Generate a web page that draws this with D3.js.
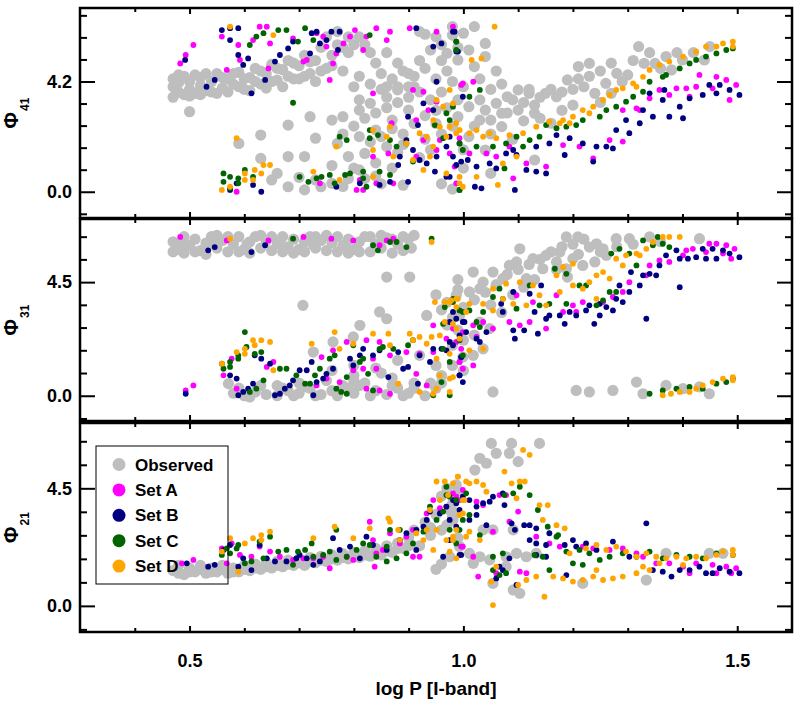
<!DOCTYPE html>
<html>
<head>
<meta charset="utf-8">
<script src="https://cdn.jsdelivr.net/npm/d3@7"></script>
<style>
    body { margin: 0; background: #fff; }
    svg { display: block; font-family: "Liberation Sans", Arial, sans-serif; font-weight: bold; }
</style>
</head>
<body>
<svg id="chart" width="802" height="702"></svg>
<script>
// ---- axes / labels ----
var xDomain = [0.3, 1.6];
var yDomain = [-1, 7];
var xTicks = [0.5, 1.0, 1.5];
var xMinor = [0.4, 0.6, 0.7, 0.8, 0.9, 1.1, 1.2, 1.3, 1.4];
var yTicks41 = [0.0, 4.2];
var yMinor41 = [-0.84, 0.84, 1.68, 2.52, 3.36, 5.04, 5.88, 6.72];
var yTicks31 = [0.0, 4.5];
var yMinor31 = [-0.9, 0.9, 1.8, 2.7, 3.6, 5.4, 6.3];
var yTicks21 = [0.0, 4.5];
var yMinor21 = [-0.9, 0.9, 1.8, 2.7, 3.6, 5.4, 6.3];
var seriesNames = ["Observed", "Set A", "Set B", "Set C", "Set D"];
var seriesColors = ["#bebebe", "#ff00ff", "#000080", "#006400", "#ffa500"];

// ---- Phi41 ----
var obs41 = [[0.47,4.0],[0.47,4.3],[0.47,3.6],[0.48,3.8],[0.48,4.15],[0.49,4.4],[0.49,3.7],[0.50,3.9],[0.50,4.2],[0.51,3.75],[0.51,4.45],[0.52,4.05],[0.52,4.35],[0.53,3.85],[0.53,4.5],[0.54,4.2],[0.55,4.5],[0.55,3.75],[0.56,3.95],[0.57,4.3],[0.57,3.8],[0.58,4.1],[0.59,4.55],[0.59,4.0],[0.60,3.9],[0.61,4.35],[0.61,3.85],[0.62,4.7],[0.63,4.1],[0.63,4.6],[0.64,4.5],[0.65,4.85],[0.65,4.2],[0.66,4.25],[0.67,4.65],[0.67,4.0],[0.68,5.0],[0.69,4.3],[0.69,4.9],[0.70,4.8],[0.71,5.2],[0.71,4.4],[0.72,4.5],[0.73,5.0],[0.73,4.2],[0.74,5.5],[0.75,4.7],[0.75,5.9],[0.76,5.2],[0.77,6.1],[0.78,5.5],[0.78,4.6],[0.79,5.9],[0.80,4.0],[0.81,4.4],[0.83,4.1],[0.85,3.9],[0.87,4.3],[0.89,4.6],[0.90,4.0],
[0.48,4.45],[0.50,3.65],[0.52,3.7],[0.54,3.8],[0.56,4.35],[0.58,4.5],[0.60,4.3],[0.62,4.2],[0.64,3.95],[0.66,4.7],[0.68,4.4],[0.70,4.3],[0.72,4.95],[0.74,4.6],[0.76,4.8],[0.77,5.6],[0.79,5.3],[0.80,5.6],[0.81,5.9],[0.83,5.3],[0.84,4.9],[0.85,4.5],[0.86,4.0],[0.88,4.0],[0.90,4.5],[0.92,5.0],[0.94,5.4],[0.96,5.6],[0.92,6.1],
[0.93,6.0],[0.95,5.9],[0.98,5.97],[0.97,5.27],[0.99,5.5],[0.96,5.0],[0.82,5.6],[0.86,5.3],[0.88,4.9],[0.91,4.4],[0.93,4.7],[0.95,4.3],
[0.50,3.05],[0.59,1.84],[0.63,2.16],[0.68,2.54],[0.72,2.86],[0.73,2.04],[0.63,1.27],[0.68,1.34],[0.71,1.34],[0.81,3.5],
[0.76,2.73],[0.78,2.86],[0.81,3.11],[0.83,3.37],[0.86,3.6],[0.88,3.88],[0.91,4.0],[0.77,1.84],[0.81,2.1],[0.84,2.35],[0.87,2.73],[0.90,3.11],[0.79,1.34],[0.82,1.46],[0.86,1.72],[0.89,2.2],[0.76,1.0],[0.80,0.9],[0.84,1.1],[0.88,1.5],[0.93,2.0],[0.95,2.6],[0.97,3.2],
[0.78,2.2],[0.80,2.5],[0.82,2.8],[0.84,3.0],[0.86,3.2],[0.88,3.4],[0.90,3.6],[0.92,3.8],[0.94,3.5],[0.96,3.8],[0.98,4.2],[0.97,4.6],[0.83,1.9],[0.85,2.1],[0.87,2.4],[0.91,2.6],[0.93,2.9],[0.95,3.1],[0.89,1.8],[0.92,1.3],[0.94,1.6],[0.96,2.2],[0.98,2.5],[0.99,3.5],[1.00,4.0],[0.82,0.5],[0.85,0.3],[0.78,0.2],
[0.65,0.45],[0.68,0.19],[0.71,0.07],[0.74,0.19],[0.76,0.32],[0.79,0.5],[0.81,0.83],[0.84,0.6],[0.66,0.7],[0.70,0.55],[0.73,0.45],[0.87,0.9],[0.96,0.3],[0.98,0.1],[0.89,0.25],
[0.98,6.29],[1.02,6.29],[1.00,6.04],[0.99,5.02],[1.01,5.4],[1.04,5.65],[1.04,5.15],[1.02,4.77],[0.99,2.86],[1.01,3.24],[1.04,3.11],[1.06,3.37],[1.08,3.62],[1.10,3.88],[1.12,3.75],[1.15,3.75],[1.17,3.62],[1.19,4.26],[1.21,4.77],[1.23,4.89],[1.22,4.0],[1.24,3.75],[1.26,4.13],[1.27,3.75],[1.28,4.51],[1.30,4.45],[1.32,5.53],[1.33,4.89],[1.35,4.89],[1.37,5.15],[1.38,4.64],[1.40,5.02],[1.45,5.53],[1.44,5.02],[1.05,2.73],[1.03,2.73],[1.07,2.99],[1.10,3.11],[1.13,2.99],[1.16,2.61],[1.07,2.48],[1.01,2.1],[1.04,1.59],[1.05,0.7],[1.13,1.21],[1.00,1.6],[1.09,2.0],[1.20,3.3],[1.25,3.4],
[1.03,3.5],[1.05,3.9],[1.07,4.1],[1.09,3.5],[1.11,3.4],[1.13,3.3],[1.14,3.6],[1.16,3.9],[1.18,3.8],[1.20,3.9],[1.21,4.3],[1.23,4.4],[1.25,4.6],[1.27,4.9],[1.29,4.2],[1.31,5.0],[1.34,5.3],[1.36,4.7],[1.39,5.3],[1.42,5.3],[1.06,4.6],[1.03,4.3],[1.08,3.0],[1.11,2.7],[1.14,2.8],[1.18,3.1],[1.02,2.5],[1.05,2.2],[1.00,0.9],[1.12,3.9]];

var setA41 = [[0.483,4.89],[0.493,5.21],[0.507,5.59],[0.559,5.91],[0.568,4.64],[0.589,5.59],[0.592,5.02],[0.616,5.78],[0.628,6.29],[0.641,6.29],[0.647,5.65],[0.644,4.70],[0.689,5.84],[0.708,4.96],[0.714,5.02],[0.732,6.04],[0.744,5.91],[0.750,5.53],[0.756,4.26],[0.762,4.89],[0.768,5.27],[0.781,5.65],[0.793,5.91],[0.802,6.16],[0.817,5.40],[0.823,5.91],[0.841,6.23],[0.860,5.78],[0.866,6.10],[0.902,6.23],[0.951,6.10],[0.981,6.29],[0.908,3.88],[0.927,3.81],[0.936,3.11],[0.951,3.43],[0.835,3.75],[0.996,4.07],[0.914,2.73],[0.869,2.61],[0.927,1.97],[0.951,1.59],[0.914,1.34],[0.863,1.46],[0.835,1.34],[0.811,0.45],[0.805,0.07],[0.817,0.07],[0.841,0.32],[0.872,0.32],[0.738,0.32],[0.586,0.0],[0.957,1.97],
[0.993,2.04],[1.011,1.46],[1.042,1.46],[1.060,1.34],[1.084,1.72],[1.115,1.08],[1.151,0.96],[1.182,1.78],[1.212,1.72],[1.237,1.27],[1.267,1.97],[1.291,1.91],[1.316,3.18],[1.340,3.56],[1.358,3.88],[1.389,3.94],[1.407,3.94],[1.425,4.00],[1.455,3.94],[1.480,4.26],[1.498,4.07],[1.431,4.45],[1.462,4.38],[1.486,3.50],[1.413,3.62],[1.376,3.69],[1.322,3.11],[1.291,3.11],[1.091,0.51],[0.999,4.13],[1.018,4.19],[0.975,1.46],[0.984,0.96],[0.987,0.32]];

var setB41 = [[0.492,5.02],[0.531,4.00],[0.546,4.26],[0.559,6.16],[0.574,6.23],[0.589,6.23],[0.574,5.78],[0.589,5.21],[0.598,4.83],[0.607,5.08],[0.613,3.75],[0.638,4.26],[0.656,4.96],[0.665,5.21],[0.680,5.46],[0.689,5.72],[0.720,5.27],[0.723,6.04],[0.732,6.10],[0.738,5.65],[0.750,5.78],[0.759,6.10],[0.771,5.40],[0.774,6.10],[0.951,4.19],[0.960,5.65],[0.945,5.53],[0.987,5.34],[0.914,6.23],[0.981,6.10],[0.899,2.86],[0.917,2.54],[0.945,3.11],[0.927,3.37],[0.896,1.97],[0.908,1.59],[0.920,1.21],[0.933,1.08],[0.975,2.10],[0.981,1.34],[0.969,1.72],[0.951,1.34],[0.884,1.34],[0.881,1.02],[0.899,0.38],[0.866,0.38],[0.847,0.26],[0.811,0.32],[0.768,0.19],[0.631,0.00],[0.586,0.32],[0.574,0.07],[0.616,0.26],[0.948,0.77],[0.969,0.57],[0.996,1.15],
[0.984,6.10],[0.990,5.34],[0.999,3.62],[0.987,1.02],[1.008,1.21],[1.024,0.96],[1.048,1.08],[1.060,0.89],[1.078,1.46],[1.091,1.59],[1.115,0.83],[1.133,0.77],[1.151,0.70],[1.133,1.72],[1.157,1.84],[1.170,2.16],[1.185,1.40],[1.194,2.04],[1.218,1.84],[1.237,1.15],[1.243,1.72],[1.261,1.72],[1.273,1.65],[1.279,2.35],[1.303,2.23],[1.297,2.73],[1.322,2.61],[1.328,3.11],[1.346,2.86],[1.364,3.50],[1.376,2.86],[1.395,3.24],[1.401,2.80],[1.413,3.56],[1.437,3.69],[1.462,3.75],[1.486,3.88],[1.504,3.69],[1.449,4.07],[1.468,4.07],[1.340,3.75],[1.367,3.88],[1.094,0.07],[1.033,0.13],[1.021,0.19],[1.097,1.40],[0.975,0.57]];

var setC41 = [[0.993,1.84],[1.024,1.72],[1.054,1.72],[1.078,1.84],[1.109,1.72],[1.139,2.10],[1.170,2.42],[1.188,2.48],[1.218,2.73],[1.249,2.86],[1.279,3.24],[1.310,3.62],[1.340,4.19],[1.370,4.45],[1.395,4.70],[1.425,5.02],[1.462,5.27],[1.492,5.46],[0.987,5.72],[0.987,5.40],[1.030,3.88],[1.011,3.62],[0.993,0.07],[1.075,0.89],[1.097,2.10],[1.121,1.97],[1.151,2.54],[1.206,2.54],[1.261,3.11],[1.297,3.43],[1.328,3.81],[1.364,4.38],[1.413,4.89],[1.443,5.15],[1.480,5.40],
[0.610,5.59],[0.622,5.91],[0.635,6.04],[0.662,6.16],[0.677,6.16],[0.698,5.72],[0.711,6.23],[0.726,5.78],[0.829,5.97],[0.987,5.72],[0.689,3.39],[0.774,2.10],[0.787,1.97],[0.829,2.04],[0.844,2.16],[0.829,2.35],[0.866,1.97],[0.878,1.72],[0.896,1.84],[0.948,2.54],[0.963,2.04],[0.975,2.73],[0.969,2.99],[0.993,1.84],[0.999,1.59],[0.981,3.24],[0.562,0.70],[0.562,0.38],[0.574,0.57],[0.574,0.13],[0.589,0.51],[0.589,0.32],[0.601,0.83],[0.616,0.57],[0.701,0.57],[0.717,0.38],[0.732,0.51],[0.741,0.57],[0.756,0.64],[0.765,0.32],[0.784,0.64],[0.793,0.70],[0.817,0.77],[0.817,0.51],[0.823,0.19],[0.847,0.77],[0.866,0.64],[0.908,1.15],[0.993,0.07]];

var setD41 = [[0.975,2.48],[0.993,2.35],[1.011,2.23],[1.036,2.10],[1.060,2.04],[1.084,2.16],[1.109,2.23],[1.133,2.48],[1.157,2.67],[1.182,2.73],[1.200,2.86],[1.218,3.11],[1.237,3.24],[1.255,3.50],[1.279,3.88],[1.291,3.94],[1.310,4.13],[1.328,4.38],[1.340,4.64],[1.358,4.83],[1.376,4.96],[1.401,5.15],[1.425,5.34],[1.443,5.53],[1.462,5.53],[1.474,5.65],[1.492,5.72],[1.492,5.53],[1.176,2.61],[1.267,3.69],[1.316,4.00],[1.230,2.99],[1.194,2.61],[0.987,2.61],[1.024,2.35],[1.048,2.23],[1.057,6.29],[1.015,5.02],[1.033,5.08],[1.024,0.57],[0.993,0.32],[1.063,0.26],[1.097,1.34],[1.072,1.08],
[0.951,3.50],[0.963,3.24],[0.975,3.88],[0.981,3.37],[0.945,2.73],[0.933,2.10],[0.957,2.48],[0.969,2.10],[0.987,2.23],[0.993,2.35],[0.920,2.23],[0.896,1.84],[0.860,2.10],[0.866,2.48],[0.835,2.35],[0.835,1.59],[0.872,1.34],[0.908,1.21],[0.927,0.83],[0.969,0.70],[0.993,0.57],[0.999,0.19],[0.945,1.72],[0.939,1.34],[0.559,0.07],[0.586,2.04],[0.601,0.70],[0.619,0.83],[0.635,1.02],[0.647,1.02],[0.631,0.70],[0.616,0.45],[0.574,0.19],[0.726,0.77],[0.768,1.72],[0.774,0.45],[0.835,0.57],[0.574,6.29],[0.653,5.97],[0.601,0.45]];

// ---- Phi31 ----
var obs31 = [[0.47,6.1],[0.48,5.8],[0.49,6.3],[0.50,5.95],[0.51,6.2],[0.52,5.75],[0.53,6.05],[0.54,6.3],[0.55,5.85],[0.56,6.15],[0.57,5.7],[0.58,6.0],[0.59,6.3],[0.60,5.8],[0.61,6.1],[0.62,6.3],[0.63,5.85],[0.64,6.15],[0.65,5.75],[0.66,6.05],[0.67,6.3],[0.68,5.9],[0.69,6.2],[0.70,5.8],[0.71,6.1],[0.72,6.3],[0.73,5.85],[0.74,6.15],[0.75,5.75],[0.76,6.05],[0.77,6.3],[0.78,5.95],[0.79,6.2],[0.80,5.8],[0.81,6.1],[0.82,6.3],[0.83,5.7],[0.84,6.0],[0.85,5.85],[0.86,6.25],[0.87,5.65],[0.88,6.0],[0.89,6.3],[0.90,6.2],[0.91,6.35],
[0.47,5.7],[0.49,5.65],[0.51,5.7],[0.53,5.6],[0.55,6.35],[0.57,6.3],[0.59,5.7],[0.61,5.65],[0.63,6.35],[0.65,6.3],[0.67,5.7],[0.69,5.65],[0.71,5.7],[0.73,6.3],[0.75,6.35],[0.77,5.7],[0.79,5.65],[0.81,5.7],[0.83,6.3],[0.85,6.35],[0.87,6.2],[0.89,5.75],[0.485,6.0],[0.545,6.0],[0.605,6.0],[0.665,6.0],[0.725,6.0],[0.785,6.0],[0.845,6.0],[0.905,5.85],
[0.860,4.70],[0.902,4.70],[0.707,3.58],[0.571,0.48],[0.811,2.79],[0.762,2.13],[0.799,2.33],[0.847,3.32],[0.860,3.05],[0.933,3.18],[0.726,1.73],
[0.58,0.1],[0.60,0.0],[0.62,0.15],[0.64,0.05],[0.66,0.0],[0.68,0.2],[0.70,0.1],[0.72,0.3],[0.74,0.05],[0.76,0.2],[0.78,0.4],[0.80,0.1],[0.82,0.5],[0.84,0.2],[0.86,0.05],[0.88,0.3],[0.90,0.1],[0.70,0.5],[0.75,0.6],[0.80,0.8],[0.85,0.9],[0.66,0.4],
[0.59,0.3],[0.61,-0.05],[0.63,0.4],[0.67,0.3],[0.69,0.0],[0.71,0.35],[0.73,0.0],[0.77,0.0],[0.79,0.3],[0.81,0.4],[0.83,0.0],[0.87,0.4],[0.89,0.0],[0.91,0.5],[0.93,0.0],[0.95,0.3],
[0.76,1.0],[0.80,1.2],[0.84,1.1],[0.88,1.4],[0.92,1.6],[0.95,1.2],[0.80,0.6],[0.87,0.7],[0.91,0.3],[0.94,0.5],[0.96,0.8],[0.98,2.0],[0.99,2.6],
[0.95,4.0],[0.97,3.7],[0.99,4.2],[0.96,3.4],[0.98,3.1],[0.99,4.6],
[1.00,3.5],[1.02,3.8],[1.04,4.1],[1.06,4.4],[1.08,4.8],[1.10,5.0],[1.12,5.2],[1.14,5.4],[1.16,5.7],[1.18,5.9],[1.20,6.0],[1.22,6.2],[1.05,3.6],[1.09,4.0],[1.13,4.6],[1.17,5.0],[1.21,5.6],[1.25,5.7],[1.28,5.9],[1.31,6.0],[1.36,6.1],[1.00,2.2],[1.02,2.4],[0.97,2.8],[1.24,5.3],[1.19,4.7],[1.11,4.3],[1.07,3.3],[0.96,0.5],[0.98,1.2],[1.00,1.0],
[1.188,6.29],[1.209,6.29],[1.230,5.89],[1.243,6.02],[1.255,5.82],[1.279,6.22],[1.303,6.22],[1.340,6.29],[1.431,6.22],[1.103,5.82],[1.084,5.16],[1.097,5.30],[1.127,5.43],[1.151,5.56],[1.145,5.03],[1.170,5.30],[1.200,5.43],[1.188,5.03],[1.218,5.16],[1.018,4.90],[1.054,4.90],[1.072,4.64],[1.036,4.50],[1.115,4.64],[1.011,4.11],[0.987,3.98],[1.030,4.24],[1.060,4.37],[0.993,3.18],[1.030,2.92],[1.048,2.66],[1.036,1.86],[1.018,1.60],[1.054,0.15],[1.206,0.21],[1.230,0.15],[1.273,0.21],[1.316,0.54],[1.328,0.08],[1.370,0.41],[1.449,0.08],[1.431,0.35],[1.401,0.28],[0.999,1.53],[1.261,5.56],[1.176,5.69]];

var setA31 = [[0.483,6.29],[0.568,6.15],[0.644,6.15],[0.708,6.29],[0.759,6.22],[0.799,6.15],[0.860,6.15],[0.872,6.22],[0.847,5.96],[0.493,0.21],[0.507,0.41],[0.562,0.81],[0.577,1.47],[0.586,0.28],[0.641,1.14],[0.653,1.34],[0.741,1.53],[0.762,1.80],[0.732,0.41],[0.750,0.68],[0.774,0.54],[0.799,1.01],[0.817,1.07],[0.823,2.20],[0.847,2.13],[0.866,1.60],[0.841,1.07],[0.823,0.28],[0.847,0.21],[0.866,0.08],[0.896,1.73],[0.920,1.66],[0.914,0.87],[0.933,0.41],[0.945,1.73],[0.969,2.26],[0.981,2.66],[0.993,1.34],[0.999,1.07],[0.945,2.79],[0.835,1.47],[0.787,2.13],
[0.987,2.13],[0.999,2.52],[1.018,2.79],[1.024,2.33],[0.993,1.34],[1.018,1.20],[0.996,1.86],[1.036,2.92],[1.084,2.92],[1.103,2.79],[1.097,3.98],[1.121,2.92],[1.151,2.66],[1.170,3.98],[1.182,3.32],[1.200,3.58],[1.206,3.32],[1.218,3.71],[1.255,3.71],[1.291,4.11],[1.303,4.50],[1.340,5.16],[1.358,5.36],[1.376,5.30],[1.401,5.56],[1.407,5.76],[1.419,5.82],[1.449,6.02],[1.462,6.02],[1.480,5.96],[1.495,5.82],[1.489,5.43],[1.474,5.63],[1.443,5.69],[1.127,3.71],[1.054,2.66],[1.334,4.77],[1.273,3.91]];

var setB31 = [[0.534,5.76],[0.546,5.89],[0.613,5.69],[0.638,5.96],[0.493,0.08],[0.574,0.81],[0.586,0.68],[0.589,0.02],[0.598,0.15],[0.607,0.28],[0.616,0.48],[0.619,1.60],[0.631,1.47],[0.647,1.27],[0.656,0.02],[0.665,0.08],[0.674,0.28],[0.683,0.41],[0.689,0.61],[0.701,1.01],[0.714,1.01],[0.723,1.34],[0.726,0.02],[0.732,0.54],[0.744,0.68],[0.750,0.87],[0.762,1.07],[0.793,1.47],[0.799,1.20],[0.811,1.60],[0.817,1.86],[0.835,1.60],[0.847,1.80],[0.863,0.74],[0.881,1.73],[0.890,1.07],[0.899,1.14],[0.917,0.48],[0.920,1.60],[0.939,1.34],[0.945,1.86],[0.960,1.86],[0.969,1.80],[0.975,2.13],[0.993,2.39],[0.996,1.53],[0.993,0.81],[1.002,2.92],[0.981,3.32],
[0.975,2.92],[0.987,3.05],[0.999,2.92],[1.005,2.52],[1.024,2.26],[1.030,2.13],[1.042,2.52],[0.981,2.00],[0.996,1.53],[0.993,0.81],[0.999,0.54],[1.069,3.64],[1.072,3.32],[1.091,4.11],[1.091,2.59],[1.094,2.26],[1.111,2.59],[1.121,4.04],[1.130,3.32],[1.136,2.46],[1.142,4.37],[1.151,3.05],[1.157,3.18],[1.176,3.18],[1.185,2.85],[1.194,3.32],[1.206,3.18],[1.224,3.38],[1.230,3.58],[1.239,2.85],[1.249,3.18],[1.261,3.51],[1.273,3.38],[1.279,3.84],[1.291,3.71],[1.285,4.37],[1.303,4.11],[1.306,4.90],[1.322,4.37],[1.328,4.77],[1.340,4.83],[1.352,4.77],[1.358,5.16],[1.370,5.56],[1.395,5.43],[1.410,5.43],[1.425,5.49],[1.437,5.82],[1.443,5.43],[1.455,5.82],[1.462,5.43],[1.474,5.76],[1.486,5.63],[1.504,5.49],[1.395,4.30],[1.334,3.05],[1.389,5.76],[1.249,3.64]];

var setC31 = [[0.689,6.22],[0.835,5.96],[0.844,5.76],[0.866,6.09],[0.878,6.09],[0.896,5.89],[0.942,6.22],[0.601,2.52],[0.559,1.27],[0.562,1.07],[0.574,1.34],[0.574,1.14],[0.589,1.60],[0.589,1.47],[0.604,1.93],[0.619,1.66],[0.631,1.73],[0.635,0.61],[0.610,0.15],[0.622,0.28],[0.665,1.07],[0.677,1.07],[0.695,0.81],[0.711,0.48],[0.720,0.48],[0.729,0.81],[0.738,1.07],[0.756,1.47],[0.765,1.60],[0.768,0.28],[0.777,0.15],[0.787,0.08],[0.787,0.74],[0.799,2.00],[0.811,1.34],[0.817,1.47],[0.826,0.87],[0.835,0.21],[0.847,1.86],[0.853,1.93],[0.872,1.86],[0.899,2.00],[0.908,2.20],[0.963,2.85],[0.966,3.51],[0.981,3.84],[0.993,3.38],[0.963,1.86],[0.975,1.34],[0.960,0.54],[0.945,0.02],[0.975,0.02],[0.999,1.60],
[0.981,3.71],[0.999,3.32],[1.011,3.38],[1.024,2.92],[1.036,3.32],[1.054,3.91],[1.066,4.24],[1.072,3.84],[1.097,3.45],[1.121,4.37],[1.139,3.58],[1.157,3.64],[1.167,5.03],[1.188,4.83],[1.188,3.64],[1.212,4.37],[1.224,4.37],[1.243,3.58],[1.255,3.78],[1.267,4.11],[1.270,5.63],[1.279,4.11],[1.285,5.82],[1.303,5.63],[1.316,5.16],[1.328,6.15],[1.346,5.96],[1.355,6.29],[1.376,5.89],[1.364,6.02],[0.993,2.20],[1.030,2.72],[1.340,0.08],[1.364,0.21],[1.389,0.28],[1.413,0.35],[1.437,0.28],[1.462,0.48],[1.492,0.68],[1.480,0.54]];

var setD31 = [[0.574,6.22],[0.942,6.09],[0.559,1.27],[0.586,1.73],[0.601,1.86],[0.601,1.66],[0.616,2.20],[0.619,2.00],[0.631,2.20],[0.647,2.13],[0.653,1.01],[0.723,2.06],[0.765,2.52],[0.774,1.86],[0.799,2.06],[0.835,2.46],[0.863,2.46],[0.866,2.00],[0.881,0.48],[0.902,2.46],[0.908,2.20],[0.920,2.33],[0.933,2.06],[0.920,0.15],[0.948,3.71],[0.966,3.71],[0.978,3.78],[0.990,3.84],[0.987,3.51],[1.005,3.32],[0.966,2.92],[0.981,2.85],[0.942,2.33],[0.957,2.39],[0.975,1.66],[0.951,1.47],[0.981,0.74],[0.957,0.81],[0.951,0.28],[0.945,0.08],[0.975,0.15],
[0.975,3.71],[0.987,3.84],[1.011,3.64],[1.036,3.64],[1.054,3.38],[1.054,4.24],[1.078,4.44],[1.103,4.50],[1.072,3.84],[1.091,3.64],[1.115,3.58],[1.127,4.37],[1.139,3.98],[1.151,3.58],[1.170,4.77],[1.182,5.10],[1.200,5.23],[1.176,4.11],[1.200,4.37],[1.218,4.24],[1.230,4.50],[1.243,4.77],[1.255,4.90],[1.267,4.64],[1.243,3.84],[1.279,5.43],[1.291,5.16],[1.297,5.56],[1.316,5.63],[1.322,5.56],[1.334,5.82],[1.346,6.09],[1.364,6.29],[1.376,6.29],[1.395,6.29],[0.987,2.66],[0.993,2.26],[1.011,1.80],[1.036,1.86],[0.975,0.68],[1.364,0.02],[1.379,0.08],[1.395,0.15],[1.413,0.15],[1.425,0.28],[1.437,0.41],[1.455,0.54],[1.474,0.68],[1.492,0.74],[1.492,0.61]];

// ---- Phi21 ----
var obs21 = [[0.47,1.35],[0.48,1.55],[0.49,1.2],[0.50,1.45],[0.51,1.3],[0.52,1.55],[0.53,1.25],[0.54,1.45],[0.55,1.3],[0.56,1.55],[0.57,1.25],[0.58,1.45],[0.59,1.3],[0.60,1.55],[0.61,1.35],[0.62,1.6],[0.63,1.4],[0.64,1.65],[0.65,1.45],[0.66,1.7],[0.67,1.5],[0.68,1.75],[0.69,1.55],[0.70,1.8],[0.71,1.55],[0.72,1.85],[0.73,1.65],[0.74,1.9],[0.75,1.7],[0.76,1.95],[0.77,1.75],[0.78,2.0],[0.79,1.8],[0.80,2.05],[0.81,1.85],[0.82,2.1],[0.83,1.9],[0.84,2.2],[0.85,1.95],[0.86,2.3],[0.87,2.05],[0.88,2.4],[0.89,2.2],[0.90,2.6],[0.91,2.9],[0.92,2.3],[0.93,3.2],[0.94,2.7],[0.95,3.5],[0.96,1.6],[0.97,3.1],[0.98,3.9],[0.99,2.6],[0.95,1.4],
[0.48,1.25],[0.50,1.3],[0.52,1.4],[0.54,1.3],[0.56,1.4],[0.58,1.3],[0.60,1.4],[0.62,1.45],[0.64,1.5],[0.66,1.55],[0.68,1.6],[0.70,1.65],[0.72,1.7],[0.74,1.75],[0.76,1.8],[0.78,1.85],[0.80,1.9],[0.82,1.95],[0.84,2.0],[0.86,2.1],[0.88,2.2],[0.90,2.3],[0.96,4.2],[0.97,4.5],[0.99,4.4],[0.94,3.0],[0.96,2.9],[0.98,3.4],
[1.051,6.22],[1.088,6.22],[1.139,6.22],[1.060,5.84],[1.084,5.84],[1.030,5.65],[1.042,5.46],[1.100,5.52],[1.021,5.20],[0.987,4.63],[0.975,3.67],[0.987,3.54],[0.981,3.29],[1.036,2.91],[1.054,2.91],[1.091,2.91],[0.993,2.27],[1.011,2.01],[1.030,1.88],[1.018,1.63],[1.048,1.76],[1.078,1.88],[1.097,2.01],[1.115,1.88],[1.078,1.50],[1.054,0.86],[1.091,0.61],[1.103,0.48],[1.218,0.86],[1.133,2.01],[1.334,0.99],[1.370,2.01],[1.449,2.01],[1.474,2.01],[0.975,1.88]];

var setA21 = [[0.486,1.63],[0.507,1.76],[0.559,2.20],[0.568,1.63],[0.577,2.39],[0.592,1.95],[0.613,1.88],[0.628,2.27],[0.647,2.08],[0.665,1.88],[0.689,1.76],[0.708,1.82],[0.726,1.82],[0.744,1.88],[0.756,1.44],[0.787,1.88],[0.799,1.76],[0.829,3.22],[0.835,2.52],[0.841,2.01],[0.853,2.14],[0.866,2.78],[0.884,2.39],[0.896,2.65],[0.908,2.91],[0.920,1.88],[0.933,3.54],[0.945,4.05],[0.957,3.74],[0.969,3.80],[0.981,4.31],[0.993,4.05],[0.996,2.27],[0.838,1.50],[0.908,1.88],
[0.987,4.18],[0.999,4.44],[1.024,3.99],[1.036,3.86],[1.066,4.24],[1.078,4.24],[1.100,3.61],[1.084,3.22],[1.054,2.84],[1.018,1.88],[0.999,2.27],[1.027,1.12],[1.060,1.25],[1.103,1.31],[1.115,1.25],[1.133,2.65],[1.157,2.39],[1.176,2.27],[1.218,2.27],[1.237,2.20],[1.267,2.14],[1.291,2.20],[1.316,2.01],[1.352,1.63],[1.376,1.63],[1.401,1.50],[1.425,1.63],[1.455,1.57],[1.480,1.50],[1.498,1.44],[1.462,1.25],[1.489,1.25],[1.413,1.25],[1.328,1.88]];

var setB21 = [[0.495,1.63],[0.534,1.50],[0.546,1.57],[0.562,2.14],[0.574,2.33],[0.589,1.50],[0.598,1.82],[0.613,1.37],[0.628,2.33],[0.641,1.82],[0.656,1.70],[0.677,1.70],[0.695,1.82],[0.701,1.95],[0.714,1.82],[0.726,1.57],[0.738,1.70],[0.762,2.59],[0.774,2.14],[0.793,2.27],[0.811,1.82],[0.823,2.65],[0.835,2.33],[0.860,2.14],[0.884,2.52],[0.896,2.78],[0.914,2.91],[0.927,3.03],[0.933,3.29],[0.939,3.61],[0.957,3.54],[0.969,3.80],[0.975,3.29],[0.981,4.05],[0.993,3.67],[0.996,1.95],[0.963,1.88],[0.914,2.14],
[0.987,3.93],[0.999,4.18],[1.011,4.05],[1.024,3.80],[1.011,3.29],[1.024,3.48],[1.036,3.93],[1.048,3.99],[1.054,4.18],[1.072,4.31],[1.075,3.86],[0.987,3.03],[0.975,2.52],[0.993,1.95],[1.042,3.09],[1.088,3.16],[1.094,2.91],[1.111,3.09],[1.121,3.09],[1.133,2.97],[1.157,2.78],[1.121,2.52],[1.133,2.39],[1.151,2.33],[1.133,1.95],[1.151,1.88],[1.188,1.18],[1.200,2.52],[1.185,2.33],[1.206,2.27],[1.224,2.39],[1.243,2.14],[1.273,2.46],[1.303,1.88],[1.334,3.16],[1.346,1.37],[1.364,1.31],[1.380,1.12],[1.395,1.37],[1.413,1.37],[1.431,1.50],[1.443,1.25],[1.455,1.25],[1.468,1.44],[1.486,1.31],[1.504,1.25],[1.066,1.50],[1.097,0.80],[1.060,1.05],[1.072,1.37],[1.084,1.82]];

var setC21 = [[0.559,1.95],[0.568,2.20],[0.574,2.01],[0.586,2.20],[0.589,2.33],[0.601,1.63],[0.613,1.70],[0.628,2.46],[0.635,1.82],[0.647,2.65],[0.662,2.08],[0.677,2.14],[0.689,1.57],[0.698,2.08],[0.711,2.14],[0.723,2.39],[0.726,1.88],[0.744,1.95],[0.756,2.08],[0.768,2.91],[0.768,1.76],[0.787,1.88],[0.805,2.14],[0.817,2.39],[0.829,2.33],[0.841,1.88],[0.860,1.70],[0.866,2.91],[0.878,1.82],[0.884,2.91],[0.896,2.01],[0.908,2.39],[0.927,2.84],[0.939,3.80],[0.951,3.29],[0.963,3.61],[0.969,4.24],[0.975,2.91],[0.987,4.05],[0.999,3.29],[0.860,2.27],[0.969,4.56],
[0.975,4.18],[1.005,4.31],[0.993,2.91],[0.987,2.39],[1.011,3.48],[1.030,2.71],[1.054,1.37],[1.066,1.18],[1.078,1.25],[1.054,1.88],[1.072,2.01],[1.075,4.24],[1.091,4.31],[1.103,4.56],[1.121,4.24],[1.136,3.67],[1.154,3.03],[1.130,1.95],[1.145,1.88],[1.157,1.37],[1.173,2.71],[1.188,2.08],[1.200,1.63],[1.212,2.14],[1.230,2.01],[1.249,1.76],[1.267,1.88],[1.291,2.01],[1.316,1.88],[1.340,2.08],[1.364,1.82],[1.389,1.95],[1.413,1.88],[1.437,1.82],[1.462,2.01],[1.492,1.95],[1.170,2.65],[1.218,1.57]];

var setD21 = [[0.559,2.08],[0.574,2.59],[0.589,1.31],[0.601,2.39],[0.616,2.59],[0.631,2.71],[0.631,2.52],[0.647,2.84],[0.726,2.59],[0.765,3.03],[0.799,2.59],[0.829,2.97],[0.863,3.35],[0.866,3.22],[0.881,2.91],[0.884,2.52],[0.914,2.78],[0.927,2.52],[0.933,2.91],[0.939,3.67],[0.951,4.76],[0.966,4.76],[0.981,4.69],[0.990,4.95],[1.005,4.76],[0.972,4.24],[0.957,4.05],[0.999,4.05],[0.993,3.48],[0.951,2.91],[0.969,2.52],[0.981,2.65],[0.945,2.14],[0.975,2.08],[0.987,1.82],[1.005,2.65],
[0.990,4.95],[1.011,4.69],[1.024,4.76],[1.036,4.63],[1.042,4.37],[1.075,5.14],[1.088,4.69],[1.103,4.76],[1.112,4.76],[1.097,4.12],[1.109,5.97],[1.121,5.78],[1.002,4.05],[0.999,3.54],[0.987,2.91],[0.981,2.52],[1.011,2.84],[1.030,2.52],[1.139,3.86],[1.154,3.86],[1.145,3.29],[1.170,3.09],[1.185,2.97],[1.060,1.50],[1.051,0.93],[1.100,0.80],[1.148,0.35],[1.054,0.03],[1.133,1.12],[1.115,0.99],[1.164,1.12],[1.182,1.05],[1.200,0.93],[1.218,0.99],[1.237,1.12],[1.255,0.99],[1.273,1.05],[1.291,1.12],[1.316,1.25],[1.340,1.37],[1.194,2.01],[1.224,2.20],[1.243,2.33],[1.261,2.14],[1.279,2.27],[1.297,2.08],[1.316,1.88],[1.334,2.01],[1.352,1.88],[1.370,1.82],[1.389,1.88],[1.407,1.82],[1.425,1.88],[1.443,1.82],[1.462,1.95],[1.474,2.08],[1.492,2.14],[1.492,1.95],[1.358,1.63],[1.401,1.57],[1.328,1.50],[1.243,1.37]];

var svg = d3.select('#chart');
var x = d3.scaleLinear().domain(xDomain).range([80, 792]);

var panels = [
    { sub: "41", top: 8, bottom: 218, ticks: yTicks41, minor: yMinor41, obs: obs41, sets: [setA41, setB41, setC41, setD41] },
    { sub: "31", top: 219, bottom: 421, ticks: yTicks31, minor: yMinor31, obs: obs31, sets: [setA31, setB31, setC31, setD31] },
    { sub: "21", top: 423, bottom: 632, ticks: yTicks21, minor: yMinor21, obs: obs21, sets: [setA21, setB21, setC21, setD21] }
];

function styleAxis(g, labelled) {
    g.select('.domain').remove();
    g.selectAll('line').attr('stroke', '#000').attr('stroke-width', 2);
    if (labelled) {
        g.selectAll('text').attr('font-family', '"Liberation Sans", Arial, sans-serif')
            .attr('font-weight', 'bold').attr('font-size', 18).attr('fill', '#000');
    } else {
        g.selectAll('text').remove();
    }
}

panels.forEach(function (p, pi) {
    var y = d3.scaleLinear().domain(yDomain).range([p.bottom, p.top]);
    var g = svg.append('g');

    g.selectAll('.obs').data(p.obs).enter().append('circle')
        .attr('cx', function (d) { return x(d[0]); })
        .attr('cy', function (d) { return y(d[1]); })
        .attr('r', 5.6)
        .attr('fill', seriesColors[0]);

    p.sets.forEach(function (s, i) {
        g.selectAll('.set' + i).data(s).enter().append('circle')
            .attr('cx', function (d) { return x(d[0]); })
            .attr('cy', function (d) { return y(d[1]); })
            .attr('r', 2.9)
            .attr('fill', seriesColors[i + 1]);
    });

    // frame
    g.append('rect')
        .attr('x', 80).attr('y', p.top)
        .attr('width', 712).attr('height', p.bottom - p.top)
        .attr('fill', 'none').attr('stroke', '#000').attr('stroke-width', 2.5);

    // y axes, ticks pointing inward
    g.append('g').attr('transform', 'translate(80,0)')
        .call(d3.axisLeft(y).tickValues(p.ticks).tickSizeInner(-15).tickSizeOuter(0).tickPadding(8)
            .tickFormat(d3.format('.1f')))
        .call(styleAxis, true);
    g.append('g').attr('transform', 'translate(80,0)')
        .call(d3.axisLeft(y).tickValues(p.minor).tickSizeInner(-7).tickSizeOuter(0))
        .call(styleAxis, false);
    g.append('g').attr('transform', 'translate(792,0)')
        .call(d3.axisRight(y).tickValues(p.ticks).tickSizeInner(-15).tickSizeOuter(0))
        .call(styleAxis, false);
    g.append('g').attr('transform', 'translate(792,0)')
        .call(d3.axisRight(y).tickValues(p.minor).tickSizeInner(-7).tickSizeOuter(0))
        .call(styleAxis, false);

    // x axes top and bottom
    var last = pi === panels.length - 1;
    g.append('g').attr('transform', 'translate(0,' + p.bottom + ')')
        .call(d3.axisBottom(x).tickValues(xTicks).tickSizeInner(-6).tickSizeOuter(0).tickPadding(22)
            .tickFormat(d3.format('.1f')))
        .call(styleAxis, last);
    g.append('g').attr('transform', 'translate(0,' + p.bottom + ')')
        .call(d3.axisBottom(x).tickValues(xMinor).tickSizeInner(-4).tickSizeOuter(0))
        .call(styleAxis, false);
    g.append('g').attr('transform', 'translate(0,' + p.top + ')')
        .call(d3.axisTop(x).tickValues(xTicks).tickSizeInner(-6).tickSizeOuter(0))
        .call(styleAxis, false);
    g.append('g').attr('transform', 'translate(0,' + p.top + ')')
        .call(d3.axisTop(x).tickValues(xMinor).tickSizeInner(-4).tickSizeOuter(0))
        .call(styleAxis, false);

    // y label: Phi with subscript
    var cy = (p.top + p.bottom) / 2;
    var lab = svg.append('text')
        .attr('transform', 'translate(18,' + cy + ') rotate(-90)')
        .attr('text-anchor', 'middle')
        .attr('fill', '#000');
    lab.append('tspan').attr('font-size', 20).text('\u03A6');
    lab.append('tspan').attr('font-size', 12).attr('dy', 11).attr('dx', 1).text(p.sub);

    if (last) {
        // legend
        var lg = svg.append('g');
        lg.append('rect').attr('x', 96).attr('y', 446).attr('width', 132).attr('height', 138)
            .attr('fill', 'none').attr('stroke', '#000').attr('stroke-width', 1);
        seriesNames.forEach(function (n, i) {
            var ly = 464.5 + i * 25.4;
            lg.append('circle').attr('cx', 119).attr('cy', ly).attr('r', 6.5).attr('fill', seriesColors[i]);
            lg.append('text').attr('x', 135).attr('y', ly).attr('dy', '0.36em')
                .attr('font-size', 17).attr('fill', '#000').text(n);
        });
    }
});

svg.append('text')
    .attr('x', 436).attr('y', 695)
    .attr('text-anchor', 'middle')
    .attr('font-size', 19)
    .attr('fill', '#000')
    .text('log P [I-band]');
</script>
</body>
</html>
